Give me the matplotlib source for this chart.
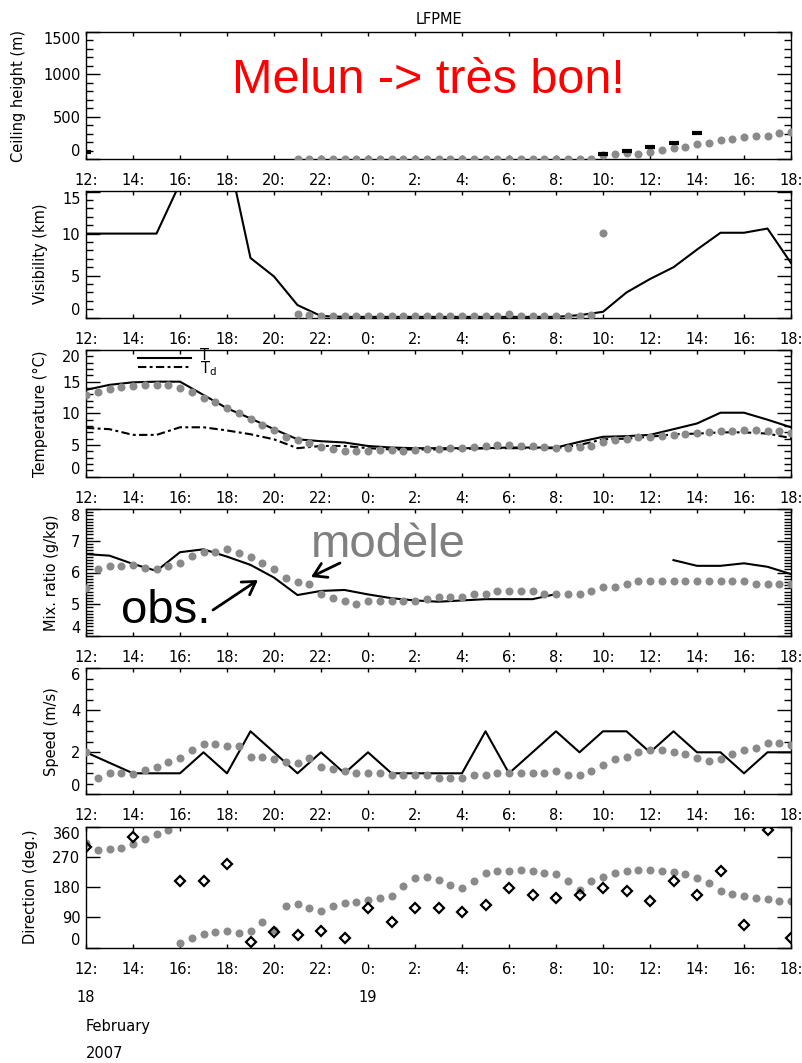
import numpy as np
import matplotlib
matplotlib.use("Agg")
import matplotlib.pyplot as plt
from matplotlib.ticker import MultipleLocator

nan = np.nan

# Time axis: hours after 12:00 on 18 February 2007
obs_hours = list(range(31))                 # hourly station observations
model_hours = [h / 2 for h in range(61)]    # half-hourly model output

xtick_pos = list(range(0, 31, 2))
xtick_labels = ["12:", "14:", "16:", "18:", "20:", "22:", "0:", "2:", "4:",
                "6:", "8:", "10:", "12:", "14:", "16:", "18:"]

# Ceiling height (m)
ceil_obs_hours = [0, 22, 23, 24, 25, 26]
ceil_obs = [80, 63, 94, 138, 193, 311]
ceil_model = [nan] * 18 + [0] * 26 + [
    47, 59, 67, 63, 83, 102, 126, 142, 177, 189, 220, 236, 260, 268, 276, 303, 315]

# Visibility (km)
vis_obs = [10, 10, 10, 10, 16, 20, 20, 7.1, 4.9, 1.5, 0.2,
           0.1, 0.1, 0.1, 0.1, 0.1, 0.1, 0.1, 0.1, 0.1, 0.1,
           0.3, 0.7, 3.0, 4.6, 6.0, 8.1, 10.1, 10.1, 10.6, 6.5]
vis_model = [nan] * 18 + [
    0.4, 0.3, 0.2, 0.2, 0.2, 0.2, 0.2, 0.2, 0.2, 0.2,
    0.2, 0.2, 0.2, 0.2, 0.2, 0.2, 0.2, 0.2, 0.4, 0.2,
    0.2, 0.2, 0.2, 0.2, 0.2, 0.3, 10.1] + [nan] * 16

# Temperature and dew point (deg C)
t_obs = [13.7, 14.5, 14.9, 15.0, 15.0, 12.9, 10.8, 9.2, 7.5, 5.9,
         5.6, 5.4, 4.85, 4.6, 4.5, 4.5, 4.5, 4.5, 4.6, 4.6,
         4.6, 5.5, 6.3, 6.4, 6.6, 7.5, 8.4, 10.1, 10.1, 9.0, 7.8]
td_obs = [7.7, 7.5, 6.6, 6.6, 7.8, 7.8, 7.3, 6.7, 5.9, 4.5,
          4.85, 4.85, 4.5, 4.3, 4.3, 4.3, 4.4, 4.5, 4.5, 4.5,
          4.5, 5.0, 5.9, 6.0, 6.3, 6.7, 6.8, 7.0, 7.0, 6.8, 6.1]
t_model = [12.9, 13.3, 13.8, 14.2, 14.3, 14.5, 14.5, 14.4, 14.0, 13.3,
           12.5, 11.75, 10.8, 10.0, 9.1, 8.2, 7.3, 6.3, 5.8, 5.3,
           4.7, 4.3, 4.05, 4.0, 4.05, 4.2, 4.2, 4.1, 4.2, 4.3,
           4.3, 4.5, 4.6, 4.7, 4.85, 5.0, 5.0, 4.85, 4.85, 4.7,
           4.5, 4.6, 4.7, 4.85, 5.4, 5.8, 6.0, 6.2, 6.3, 6.5,
           6.6, 6.75, 6.85, 7.0, 7.2, 7.25, 7.35, 7.35, 7.2, 7.2,
           6.9]

# Mixing ratio (g/kg)
q_obs = [6.58, 6.53, 6.27, 6.05, 6.64, 6.73, 6.5, 6.24, 5.84, 5.29,
         5.42, 5.45, 5.31, 5.19, 5.12, 5.08, 5.12, 5.16, 5.16, 5.16,
         5.32, nan, nan, nan, nan, 6.39, 6.21, 6.21, 6.29, 6.18, 5.95]
q_model = [5.5, 6.11, 6.21, 6.21, 6.24, 6.13, 6.11, 6.21, 6.31, 6.52,
           6.64, 6.64, 6.74, 6.6, 6.5, 6.31, 6.11, 5.82, 5.71, 5.63,
           5.31, 5.21, 5.1, 5.01, 5.1, 5.1, 5.1, 5.1, 5.1, 5.16,
           5.24, 5.24, 5.24, 5.32, 5.32, 5.42, 5.42, 5.42, 5.42, 5.32,
           5.32, 5.32, 5.32, 5.42, 5.53, 5.53, 5.63, 5.73, 5.72, 5.72,
           5.72, 5.72, 5.72, 5.72, 5.72, 5.72, 5.73, 5.63, 5.63, 5.63,
           5.63]

# Wind speed (m/s)
ff_obs = [2, 1.5, 1, 1, 1, 2, 1, 3, 2, 1,
          2, 1, 2, 1, 1, 1, 1, 3, 1, 2,
          3, 2, 3, 3, 2, 3, 2, 2, 1, 2, 2]
ff_model = [2.0, 0.77, 1.0, 1.0, 0.98, 1.16, 1.3, 1.52, 1.73, 2.09,
            2.4, 2.4, 2.32, 2.3, 1.8, 1.8, 1.69, 1.54, 1.5, 1.73,
            1.3, 1.2, 1.09, 1.0, 1.0, 1.0, 0.9, 0.9, 0.9, 0.9,
            0.8, 0.8, 0.8, 0.9, 0.9, 1.0, 1.0, 1.0, 1.0, 1.0,
            1.09, 0.9, 0.9, 1.11, 1.4, 1.69, 1.8, 2.0, 2.1, 2.1,
            2.0, 1.9, 1.73, 1.6, 1.69, 1.9, 2.1, 2.2, 2.42, 2.42,
            2.37]

# Wind direction (deg)
dd_obs_hours = [0, 2, 4, 5, 6, 7, 8, 9, 10, 11, 12, 13, 14, 15, 16,
                17, 18, 19, 20, 21, 22, 23, 24, 25, 26, 27, 28, 29, 30]
dd_obs = [300, 330, 198, 198, 248, 16, 46, 38, 49, 28, 117, 77, 117, 117, 107,
          127, 179, 157, 147, 157, 179, 169, 139, 198, 157, 228, 68, 350, 28]
dd_model = [311, 291, 293, 298, 308, 323, 337, 350, 15, 30,
            40, 48, 50, 43, 50, 76, 53, 124, 130, 119,
            109, 124, 132, 137, 142, 147, 155, 184, 208, 211,
            201, 187, 179, 199, 221, 228, 228, 231, 228, 221,
            218, 198, 172, 199, 209, 221, 228, 231, 231, 228,
            224, 218, 208, 192, 169, 159, 154, 149, 144, 140,
            140]

GREY = "#8a8a8a"
FS = 10.5
plt.rcParams["font.family"] = ["DejaVu Sans"]
plt.rcParams["font.size"] = FS

W, H = 802, 1063
fig = plt.figure(figsize=(W / 100, H / 100), dpi=100)

# panel frames in pixels: (top, bottom)
frames = [(32, 159), (190.7, 317.7), (350, 476.7), (509, 636), (668.3, 794.3), (826.7, 947.7)]
left_px, right_px = 86, 791
axes = []
for top, bot in frames:
    ax = fig.add_axes([left_px / W, 1 - bot / H, (right_px - left_px) / W, (bot - top) / H])
    axes.append(ax)


def style_axis(ax, ylim, yticks, minor, ylabel, label_right_px):
    ax.set_xlim(0, 30)
    ax.set_ylim(*ylim)
    ax.set_xticks(xtick_pos)
    ax.set_xticklabels(xtick_labels)
    ax.set_yticks(yticks)
    ax.set_yticklabels([str(v) for v in yticks])
    if minor:
        ax.yaxis.set_minor_locator(MultipleLocator(minor))
    ax.tick_params(axis="y", which="both", direction="in", left=True, right=True, width=1)
    ax.tick_params(axis="y", which="major", length=10, pad=4)
    ax.tick_params(axis="y", which="minor", length=5)
    ax.tick_params(axis="x", which="major", direction="in", top=True, bottom=True,
                   length=3, width=1, pad=10)
    ticks = ax.yaxis.get_major_ticks()
    ticks[0].label1.set_va("bottom")
    ticks[-1].label1.set_va("top")
    for s in ax.spines.values():
        s.set_linewidth(1.0)
    ax.set_ylabel(ylabel, fontsize=FS)
    ax.yaxis.set_label_coords((label_right_px - left_px) / (right_px - left_px), 0.5)


dot_kw = dict(ls="none", marker="o", ms=5.8, color=GREY, mec="none")
line_kw = dict(color="black", lw=1.5)
dashdot = (0, (4, 1.6, 1.4, 1.6))

# Ceiling height
ax = axes[0]
ax.plot(model_hours, ceil_model, **dot_kw, zorder=3)
ax.plot(ceil_obs_hours, ceil_obs, ls="none", marker="_", ms=7.5, mew=3, color="black", zorder=4)
style_axis(ax, (0, 1500), [0, 500, 1000, 1500], 100, "Ceiling height (m)", 26)
ax.set_title("LFPME", fontsize=FS, pad=6)

# Visibility
ax = axes[1]
ax.plot(obs_hours, vis_obs, **line_kw, zorder=2)
ax.plot(model_hours, vis_model, **dot_kw, zorder=3)
style_axis(ax, (0, 15.1), [0, 5, 10, 15], 1, "Visibility (km)", 48)

# Temperature
ax = axes[2]
ax.plot(obs_hours, t_obs, **line_kw, zorder=2)
ax.plot(obs_hours, td_obs, color="black", lw=1.5, ls=dashdot, zorder=2)
ax.plot(model_hours, t_model, **dot_kw, zorder=3)
style_axis(ax, (0, 20), [0, 5, 10, 15, 20], 1, "Temperature (\u00b0C)", 48)
ax.plot([0.074, 0.149], [0.937, 0.937], transform=ax.transAxes, color="black", lw=1.5)
ax.plot([0.074, 0.149], [0.866, 0.866], transform=ax.transAxes, color="black", lw=1.5,
        ls=dashdot)
# line key: T over T_d, set tightly as in the station plots
ax.text(0.162, 0.90, "T\nT$_\\mathregular{d}$", transform=ax.transAxes, va="center",
        ha="left", fontsize=FS, linespacing=0.75)

# Mixing ratio
ax = axes[3]
ax.plot(obs_hours, q_obs, **line_kw, zorder=2)
ax.plot(model_hours, q_model, **dot_kw, zorder=3)
style_axis(ax, (4, 8), [4, 5, 6, 7, 8], 0.1, "Mix. ratio (g/kg)", 59)

# Wind speed
ax = axes[4]
ax.plot(obs_hours, ff_obs, **line_kw, zorder=2)
ax.plot(model_hours, ff_model, **dot_kw, zorder=3)
style_axis(ax, (0, 6), [0, 2, 4, 6], 0.5, "Speed (m/s)", 59)

# Wind direction
ax = axes[5]
ax.plot(model_hours, dd_model, **dot_kw, zorder=2)
ax.plot(dd_obs_hours, dd_obs, ls="none", marker="D", ms=5.5, mfc="none", mec="black",
        mew=1.6, zorder=3)
style_axis(ax, (0, 360), [0, 90, 180, 270, 360], None, "Direction (deg.)", 38)

# Date annotations under the last panel
fig.text(left_px / W, 1 - 998 / H, "18", ha="center", va="center", fontsize=FS)
fig.text(368 / W, 1 - 998 / H, "19", ha="center", va="center", fontsize=FS)
fig.text(left_px / W, 1 - 1027 / H, "February", ha="left", va="center", fontsize=FS)
fig.text(left_px / W, 1 - 1053 / H, "2007", ha="left", va="center", fontsize=FS)

# Commentary
fig.text(232 / W, 1 - 93.3 / H, "Melun -> tr\u00e8s bon!", color="red", fontsize=35,
         family="Liberation Sans", ha="left", va="baseline")
fig.text(311 / W, 1 - 556.7 / H, "mod\u00e8le", color="#808080", fontsize=34,
         family="Liberation Sans", ha="left", va="baseline")
fig.text(121 / W, 1 - 622.7 / H, "obs.", color="black", fontsize=34,
         family="Liberation Sans", ha="left", va="baseline")
arrow_kw = dict(arrowstyle="->,head_length=0.9,head_width=0.55", color="black", lw=2,
                shrinkA=0, shrinkB=0)
fig.add_artist(matplotlib.patches.FancyArrowPatch(
    (213 / W, 1 - 610 / H), (258 / W, 1 - 580 / H), transform=fig.transFigure,
    mutation_scale=10, **arrow_kw))
fig.add_artist(matplotlib.patches.FancyArrowPatch(
    (340 / W, 1 - 563 / H), (311 / W, 1 - 577 / H), transform=fig.transFigure,
    mutation_scale=10, **arrow_kw))

fig.savefig("out.png", dpi=100)
